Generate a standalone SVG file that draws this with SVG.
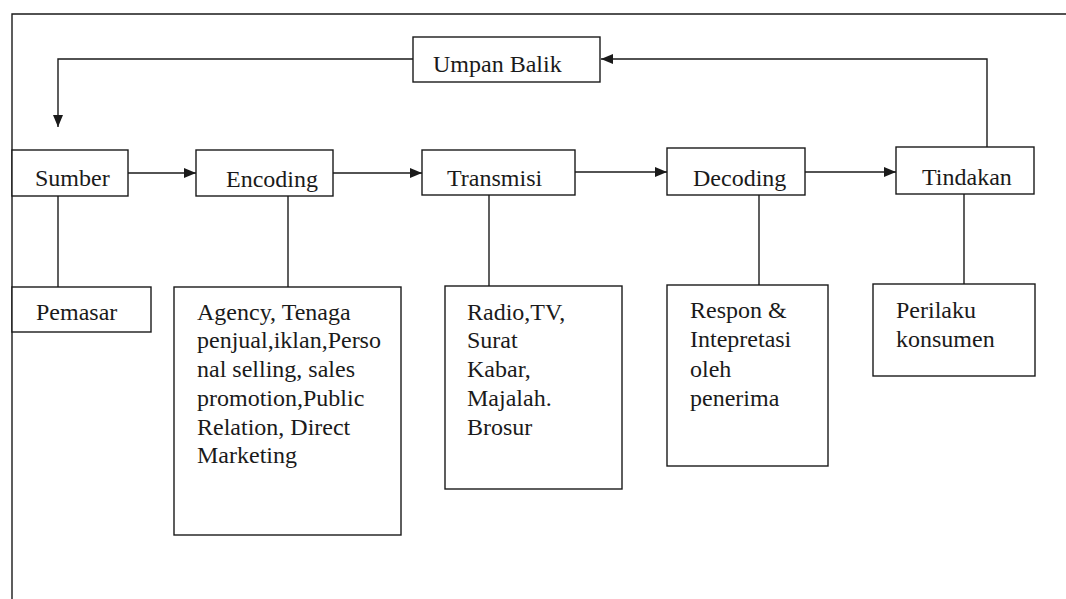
<svg xmlns="http://www.w3.org/2000/svg" width="1066" height="599" viewBox="0 0 1066 599">
  <style>
    .box { fill: #ffffff; stroke: #1a1a1a; stroke-width: 1.4; }
    .ln { fill: none; stroke: #1a1a1a; stroke-width: 1.4; }
    text { font-family: "Liberation Serif", "DejaVu Serif", serif; font-size: 24px; fill: #1a1a1a; }
  </style>
  <defs>
    <marker id="arr" viewBox="0 0 12 10" refX="12" refY="5" markerWidth="12" markerHeight="10" markerUnits="userSpaceOnUse" orient="auto">
      <path d="M0,0 L12,5 L0,10 Z" fill="#1a1a1a"/>
    </marker>
  </defs>
  <rect width="1066" height="599" fill="#ffffff"/>

  <g id="frame">
    <path class="ln" d="M12,599 L12,14 L1066,14"/>
  </g>

  <g id="connectors">
    <path class="ln" d="M413,59 L58,59 L58,127" marker-end="url(#arr)"/>
    <path class="ln" d="M987,147 L987,59 L601,59" marker-end="url(#arr)"/>
    <path class="ln" d="M128,173 L196,173" marker-end="url(#arr)"/>
    <path class="ln" d="M333,173 L422,173" marker-end="url(#arr)"/>
    <path class="ln" d="M575,172 L667,172" marker-end="url(#arr)"/>
    <path class="ln" d="M805,172 L896,172" marker-end="url(#arr)"/>
    <path class="ln" d="M58,196 L58,287"/>
    <path class="ln" d="M288,196 L288,287"/>
    <path class="ln" d="M489,195 L489,286"/>
    <path class="ln" d="M759,195 L759,285"/>
    <path class="ln" d="M964,194 L964,284"/>
  </g>

  <g id="umpan-balik">
    <rect class="box" x="413" y="37" width="187" height="45"/>
    <text x="433" y="72" font-family="Liberation Serif, serif">Umpan Balik</text>
  </g>

  <g id="sumber">
    <rect class="box" x="12" y="150" width="116" height="46"/>
    <text x="35" y="186">Sumber</text>
  </g>
  <g id="encoding">
    <rect class="box" x="196" y="150" width="137" height="46"/>
    <text x="226" y="187">Encoding</text>
  </g>
  <g id="transmisi">
    <rect class="box" x="422" y="150" width="153" height="45"/>
    <text x="447" y="186">Transmisi</text>
  </g>
  <g id="decoding">
    <rect class="box" x="667" y="148" width="138" height="47"/>
    <text x="693" y="186">Decoding</text>
  </g>
  <g id="tindakan">
    <rect class="box" x="896" y="147" width="138" height="47"/>
    <text x="922" y="185">Tindakan</text>
  </g>

  <g id="pemasar">
    <rect class="box" x="12" y="287" width="139" height="45"/>
    <text x="36" y="320">Pemasar</text>
  </g>
  <g id="encoding-detail">
    <rect class="box" x="174" y="287" width="227" height="248"/>
    <text x="197" y="320">Agency, Tenaga</text>
    <text x="197" y="348">penjual,iklan,Perso</text>
    <text x="197" y="377">nal selling, sales</text>
    <text x="197" y="406">promotion,Public</text>
    <text x="197" y="435">Relation, Direct</text>
    <text x="197" y="463">Marketing</text>
  </g>
  <g id="transmisi-detail">
    <rect class="box" x="445" y="286" width="177" height="203"/>
    <text x="467" y="320">Radio,TV,</text>
    <text x="467" y="348">Surat</text>
    <text x="467" y="377">Kabar,</text>
    <text x="467" y="406">Majalah.</text>
    <text x="467" y="435">Brosur</text>
  </g>
  <g id="decoding-detail">
    <rect class="box" x="667" y="285" width="161" height="181"/>
    <text x="690" y="318">Respon &amp;</text>
    <text x="690" y="347">Intepretasi</text>
    <text x="690" y="377">oleh</text>
    <text x="690" y="406">penerima</text>
  </g>
  <g id="tindakan-detail">
    <rect class="box" x="873" y="284" width="162" height="92"/>
    <text x="896" y="318">Perilaku</text>
    <text x="896" y="347">konsumen</text>
  </g>
</svg>
